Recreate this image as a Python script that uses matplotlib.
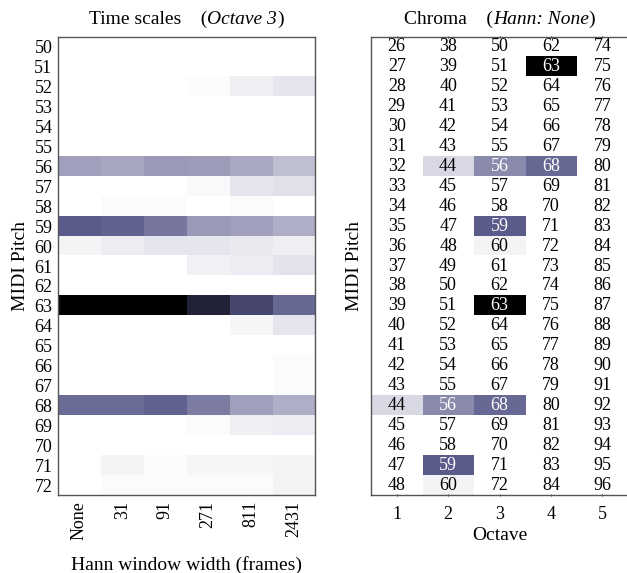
import numpy as np
import matplotlib
matplotlib.use("Agg")
import matplotlib.pyplot as plt
from matplotlib.colors import LinearSegmentedColormap
from matplotlib.offsetbox import TextArea, HPacker, AnchoredOffsetbox

plt.rcParams['font.family'] = ['Liberation Serif', 'DejaVu Serif']

# Time scales panel (octave 3): rows = MIDI pitch 50..72, cols = Hann window width
pitches = list(range(50, 73))
hann_widths = ['None', '31', '91', '271', '811', '2431']
act = {
    52: [0, 0, 0, 0.01, 0.06, 0.09],
    56: [0.34, 0.32, 0.36, 0.35, 0.31, 0.23],
    57: [0, 0, 0, 0.02, 0.09, 0.11],
    58: [0, 0.015, 0.015, 0, 0.015, 0],
    59: [0.59, 0.56, 0.49, 0.36, 0.34, 0.29],
    60: [0.04, 0.07, 0.09, 0.09, 0.08, 0.06],
    61: [0, 0, 0, 0.05, 0.07, 0.10],
    63: [0.99, 1.0, 1.0, 0.84, 0.68, 0.54],
    64: [0, 0, 0, 0, 0.035, 0.09],
    66: [0, 0, 0, 0, 0, 0.015],
    67: [0, 0, 0, 0, 0, 0.015],
    68: [0.53, 0.53, 0.56, 0.47, 0.34, 0.29],
    69: [0, 0, 0, 0.015, 0.06, 0.07],
    71: [0, 0.04, 0.015, 0.035, 0.035, 0.04],
    72: [0, 0.015, 0.015, 0.015, 0.015, 0.04],
}
time_vals = np.array([act.get(p, [0] * 6) for p in pitches])

# Chroma panel: 23 rows x 5 octaves, cell label = 26 + row + 12*(octave-1)
octaves = [1, 2, 3, 4, 5]
chroma_start = 26
n_rows = 23
chroma_act = {63: 1.0, 59: 0.59, 68: 0.54, 56: 0.42, 44: 0.14, 60: 0.04}
# (row, column, pitch) of the lit cells
chroma_cells = [(1, 3, 63), (6, 1, 44), (6, 2, 56), (6, 3, 68), (9, 2, 59), (10, 2, 60),
                (13, 2, 63), (18, 0, 44), (18, 1, 56), (18, 2, 68), (21, 1, 59), (22, 1, 60)]

cmap = LinearSegmentedColormap.from_list(
    'slate', [(0, '#ffffff'), (0.6, '#58588a'), (1.0, '#000000')])

fs = 13


def title_parts(ax, plain, italic, tail):
    # title with an italic piece in the middle
    parts = [TextArea(plain, textprops=dict(fontsize=fs + 1)),
             TextArea(italic, textprops=dict(fontsize=fs + 1, style='italic')),
             TextArea(tail, textprops=dict(fontsize=fs + 1))]
    box = HPacker(children=parts, pad=0, sep=0, align='baseline')
    anc = AnchoredOffsetbox(loc='lower center', child=box, frameon=False,
                            bbox_to_anchor=(0.5, 1.0), bbox_transform=ax.transAxes,
                            borderpad=0.65, pad=0)
    ax.add_artist(anc)


fig = plt.figure(figsize=(6.27, 5.73), dpi=100)
ax1 = fig.add_axes([0.0925, 0.136, 0.41, 0.7994])
ax2 = fig.add_axes([0.5917, 0.136, 0.41, 0.7994])

# --- left: time scales
ax1.imshow(time_vals, cmap=cmap, vmin=0, vmax=1, aspect='auto', interpolation='nearest')
ax1.set_yticks(range(len(pitches)))
ax1.set_yticklabels(pitches, fontsize=fs)
ax1.set_xticks(range(len(hann_widths)))
ax1.set_xticklabels(hann_widths, rotation=90, fontsize=fs)
ax1.tick_params(length=0, pad=4)
ax1.set_ylabel('MIDI Pitch', fontsize=fs + 1, labelpad=4)
ax1.set_xlabel('Hann window width (frames)', fontsize=fs + 1, labelpad=12)
title_parts(ax1, 'Time scales    (', 'Octave 3', ')')

# --- right: chroma
chroma_vals = np.zeros((n_rows, len(octaves)))
for r, c, p in chroma_cells:
    chroma_vals[r, c] = chroma_act[p]
ax2.imshow(chroma_vals, cmap=cmap, vmin=0, vmax=1, aspect='auto', interpolation='nearest')
for r in range(n_rows):
    for c in range(len(octaves)):
        v = chroma_vals[r, c]
        ax2.text(c, r, str(chroma_start + r + 12 * c), ha='center', va='center',
                 fontsize=fs, color='white' if v > 0.3 else 'black')
ax2.set_yticks([])
ax2.set_xticks(range(len(octaves)))
ax2.set_xticklabels(octaves, fontsize=fs)
ax2.tick_params(axis='x', length=2, width=0.6, direction='inout', top=True, pad=7)
ax2.set_ylabel('MIDI Pitch', fontsize=fs + 1, labelpad=6)
ax2.set_xlabel('Octave', fontsize=fs + 1, labelpad=3)
title_parts(ax2, 'Chroma    (', 'Hann: None', ')')

for ax in (ax1, ax2):
    for s in ax.spines.values():
        s.set_color('#555555')
        s.set_linewidth(1.0)

fig.savefig('out.png', dpi=100)
